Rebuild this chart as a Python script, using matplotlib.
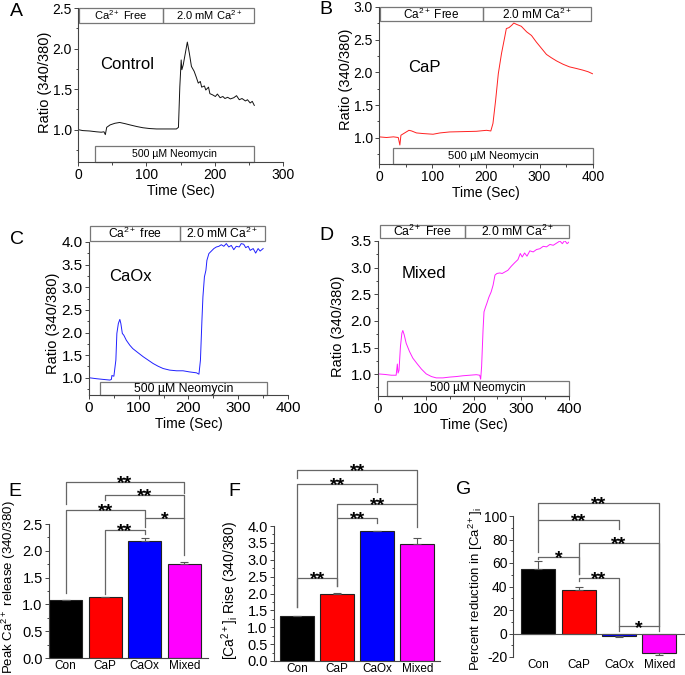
import matplotlib
matplotlib.use("Agg")
from matplotlib import pyplot as plt
from matplotlib.patches import Rectangle
from matplotlib.ticker import MultipleLocator, FormatStrFormatter

# ---- time traces ----
ctrl_t = [1, 7, 17, 27, 34, 38, 40, 42, 47, 54, 61, 69, 76, 86, 95, 105, 115, 125, 135, 144,
          147, 149, 151, 152, 154, 157, 160, 163, 166, 170, 173, 176, 179, 181, 185, 187, 191, 193, 197, 201,
          204, 208, 212, 215, 219, 223, 228, 232, 236, 240, 245, 248, 252, 255, 258]
ctrl_r = [1.00, 0.99, 0.985, 0.975, 0.97, 0.975, 0.94, 1.03, 1.06, 1.08, 1.09, 1.075, 1.06, 1.04, 1.025, 1.015, 1.01, 1.01, 1.01, 1.01,
          1.03, 1.53, 1.86, 1.74, 1.80, 1.94, 2.08, 1.94, 1.78, 1.72, 1.65, 1.575, 1.595, 1.525, 1.54, 1.49, 1.525, 1.445, 1.43, 1.41,
          1.44, 1.395, 1.41, 1.385, 1.40, 1.38, 1.395, 1.42, 1.37, 1.385, 1.355, 1.37, 1.33, 1.35, 1.30]

cap_t = [0, 14, 27, 36, 39, 41, 48, 56, 61, 70, 83, 101, 114, 132, 157, 182, 201, 209, 213, 218,
         223, 229, 235, 238, 243, 248, 252, 257, 266, 276, 285, 294, 304, 313, 322, 332, 344, 356, 369, 381,
         391, 399]
cap_r = [1.015, 1.005, 1.015, 1.005, 0.89, 1.04, 1.075, 1.115, 1.105, 1.075, 1.065, 1.055, 1.075, 1.09, 1.095, 1.10, 1.115, 1.105, 1.22, 1.575,
         1.98, 2.29, 2.54, 2.67, 2.685, 2.72, 2.755, 2.735, 2.705, 2.62, 2.565, 2.465, 2.365, 2.275, 2.225, 2.175, 2.125, 2.085, 2.06, 2.035,
         2.01, 1.98]

caox_t = [1, 15, 28, 42, 45, 46, 50, 54, 56, 59, 62, 64, 67, 70, 75, 82, 88, 99, 109, 119,
          129, 139, 149, 162, 176, 189, 202, 216, 221, 224, 227, 229, 232, 235, 237, 241, 246, 251, 256, 261,
          266, 271, 276, 281, 286, 291, 296, 302, 306, 311, 315, 320, 324, 330, 335, 340, 344, 350]
caox_r = [1.0, 0.98, 0.965, 0.95, 0.965, 1.05, 1.035, 1.39, 1.98, 2.20, 2.29, 2.20, 1.98, 1.94, 1.83, 1.72, 1.645, 1.55, 1.465, 1.39,
          1.315, 1.255, 1.205, 1.17, 1.155, 1.155, 1.13, 1.11, 1.08, 1.39, 2.27, 2.79, 3.23, 3.375, 3.595, 3.745, 3.80, 3.855, 3.89, 3.905,
          3.94, 3.905, 3.965, 3.89, 3.925, 3.83, 3.905, 3.89, 3.965, 3.95, 3.875, 3.905, 3.815, 3.855, 3.755, 3.855, 3.80, 3.855]

mix_t = [0, 14, 28, 38, 40.5, 42, 44, 47, 50, 52, 55, 59, 66, 73, 82, 91, 101, 112, 122, 136,
         150, 164, 178, 192, 206, 213, 215, 217, 220, 222, 225, 228, 232, 237, 241, 245, 249, 255, 260, 266,
         272, 279, 286, 293, 298, 302, 307, 312, 318, 325, 332, 339, 346, 353, 360, 367, 374, 381, 386, 391,
         396, 400]
mix_r = [1.005, 0.995, 0.98, 0.98, 1.19, 1.02, 1.07, 1.52, 1.77, 1.82, 1.735, 1.58, 1.425, 1.30, 1.195, 1.095, 1.005, 0.955, 0.93, 0.93,
         0.945, 0.955, 0.97, 0.98, 0.99, 0.98, 0.905, 1.145, 1.83, 2.17, 2.255, 2.33, 2.44, 2.545, 2.67, 2.86, 2.89, 2.90, 2.89, 2.92,
         2.95, 3.025, 3.09, 3.15, 3.265, 3.20, 3.275, 3.215, 3.315, 3.295, 3.34, 3.355, 3.40, 3.39, 3.435, 3.42, 3.46, 3.50, 3.45, 3.51,
         3.45, 3.48]

# ---- bar summaries ----
groups = ["Con", "CaP", "CaOx", "Mixed"]
bar_colors = ["#000000", "#ff0000", "#0000ff", "#ff00ff"]
peak_mean = [1.08, 1.13, 2.19, 1.76]
peak_err = [0.01, 0.01, 0.05, 0.03]
rise_mean = [1.33, 2.00, 3.84, 3.48]
rise_err = [0.01, 0.01, 0.01, 0.17]
reduc_mean = [55, 37, -2.5, -17]
reduc_err = [7, 2.5, 0.7, 1.2]

plt.rcParams.update({
    "font.family": ["Liberation Sans", "DejaVu Sans"],
    "mathtext.fontset": "custom",
    "mathtext.rm": "Liberation Sans",
    "mathtext.it": "Liberation Sans:italic",
    "mathtext.bf": "Liberation Sans:bold",
})

fig = plt.figure(figsize=(6.85, 6.75), dpi=100)
W, H = 685.0, 675.0


def add_ax(l, r, t, b):
    return fig.add_axes([l / W, 1 - b / H, (r - l) / W, (b - t) / H])


def style(ax, labelsize=10):
    for s in ("top", "right"):
        ax.spines[s].set_visible(False)
    for s in ("left", "bottom"):
        ax.spines[s].set_color("#444444")
        ax.spines[s].set_linewidth(0.8)
    ax.tick_params(which="both", direction="out", color="#444444", width=0.7,
                   labelsize=labelsize, pad=1.5)
    ax.tick_params(which="major", length=3)
    ax.tick_params(which="minor", length=1.8)


def trace(ax, t, r, color, xmax, ylim, name, name_xy, top, neo, free_txt, fs_box, fs_neo, fs_ax, ylab_xy):
    style(ax, fs_ax)
    ax.plot(t, r, color=color, lw=0.7)
    ax.set_xlim(0, xmax)
    ax.set_ylim(*ylim)
    ax.xaxis.set_major_locator(MultipleLocator(100))
    ax.xaxis.set_minor_locator(MultipleLocator(50))
    ax.yaxis.set_major_locator(MultipleLocator(0.5))
    ax.yaxis.set_minor_locator(MultipleLocator(0.25))
    ax.yaxis.set_major_formatter(FormatStrFormatter("%.1f"))
    ax.set_xlabel("Time (Sec)", fontsize=10, labelpad=1)
    ax.set_ylabel("Ratio (340/380)", fontsize=10.5)
    ax.yaxis.set_label_coords(*ylab_xy)
    ax.text(name_xy[0], name_xy[1], name, fontsize=12, ha="left", va="center")
    x0, xm, x1, y0, y1 = top
    for a, b in ((x0, xm), (xm, x1)):
        ax.add_patch(Rectangle((a, y0), b - a, y1 - y0, fill=False, ec="#777777", lw=0.9, clip_on=False))
    ax.text((x0 + xm) / 2, (y0 + y1) / 2, free_txt, ha="center", va="center", fontsize=fs_box, clip_on=False)
    ax.text((xm + x1) / 2, (y0 + y1) / 2, r"2.0 mM Ca$^{2+}$", ha="center", va="center", fontsize=fs_box, clip_on=False)
    n0, n1, ntop = neo
    ax.add_patch(Rectangle((n0, ylim[0]), n1 - n0, ntop - ylim[0], fill=False, ec="#777777", lw=0.9, clip_on=False))
    ax.text((n0 + n1) / 2, (ylim[0] + ntop) / 2, "500 \u00b5M Neomycin", ha="center", va="center", fontsize=fs_neo)


axA = add_ax(78, 283, 8, 162)
trace(axA, ctrl_t, ctrl_r, "#111111", 300, (0.603, 2.5), "Control", (33, 1.81),
      (1, 125, 258, 2.314, 2.5), (25, 258, 0.795), r"Ca$^{2+}$ Free", 8, 7.6, 10, (-0.125, 0.52))

axB = add_ax(379, 593, 7, 164)
trace(axB, cap_t, cap_r, "#ff2020", 400, (0.60, 3.0), "CaP", (55, 2.08),
      (2, 195, 396, 2.78, 3.0), (26, 400, 0.84), r"Ca$^{2+}$ Free", 8.5, 8.1, 10, (-0.122, 0.54))

axC = add_ax(89, 288, 242, 395)
trace(axC, caox_t, caox_r, "#2020ff", 400, (0.62, 4.0), "CaOx", (40, 3.23),
      (3, 182, 353, 4.022, 4.346), (22, 357, 0.897), r"Ca$^{2+}$ free", 8.7, 8.8, 11, (-0.146, 0.47))

axD = add_ax(378, 569, 241, 396)
trace(axD, mix_t, mix_r, "#ff20ff", 400, (0.59, 3.5), "Mixed", (50, 2.89),
      (5, 183, 400, 3.556, 3.80), (19, 400, 0.875), r"Ca$^{2+}$ Free", 8.8, 8.5, 11, (-0.172, 0.447))


def bars(ax, vals, errs, ylim, major, minor, fmt, ylabel, ylab_fs, label_xy, xlim, brackets, tick_fs=10.5):
    style(ax, tick_fs)
    x = range(len(groups))
    lo = [e if v < 0 else 0 for v, e in zip(vals, errs)]
    hi = [0 if v < 0 else e for v, e in zip(vals, errs)]
    ax.bar(x, vals, width=0.84, color=bar_colors, edgecolor="#222222", lw=0.8,
           yerr=[lo, hi], error_kw=dict(ecolor="#555555", elinewidth=0.8, capsize=3, capthick=0.8))
    ax.set_xlim(*xlim)
    ax.set_ylim(*ylim)
    ax.set_xticks(list(x))
    ax.set_xticklabels(groups, fontsize=8.5)
    ax.tick_params(axis="x", length=0, pad=1.5)
    ax.yaxis.set_major_locator(MultipleLocator(major))
    ax.yaxis.set_minor_locator(MultipleLocator(minor))
    ax.yaxis.set_major_formatter(FormatStrFormatter(fmt))
    ax.set_ylabel(ylabel, fontsize=ylab_fs)
    ax.yaxis.set_label_coords(*label_xy)
    for i, j, y, yl, yr, lab in brackets:
        ax.plot([i, i, j, j], [yl, y, y, yr], color="#666666", lw=0.9, clip_on=False)
        ax.annotate(lab, xy=((i + j) / 2, y), xytext=(0, -4.5), textcoords="offset points",
                    ha="center", va="baseline", fontsize=14, fontweight="bold", annotation_clip=False)


axE = add_ax(49, 208, 524, 658)
bars(axE, peak_mean, peak_err, (0, 2.5), 0.5, 0.25, "%.1f",
     r"Peak Ca$^{2+}$ release (340/380)", 9.5, (-0.195, 0.53), (-0.42, 3.6),
     [(0, 3, 3.29, 2.87, 3.08, "**"), (1, 3, 3.04, 2.95, 2.62, "**"),
      (0, 2, 2.76, 1.21, 2.62, "**"), (2, 3, 2.62, 2.45, 1.92, "*"),
      (1, 2, 2.39, 1.19, 2.31, "**")])

axF = add_ax(274, 440, 526, 661)
bars(axF, rise_mean, rise_err, (0, 4.0), 0.5, 0.25, "%.1f",
     r"[Ca$^{2+}$]$_{\mathrm{i}}$ Rise (340/380)", 10, (-0.2, 0.52), (-0.58, 3.57),
     [(0, 3, 5.66, 5.41, 4.68, "**"), (0, 2, 5.24, 1.61, 5.02, "**"),
      (1, 3, 4.65, 4.28, 3.98, "**"), (1, 2, 4.24, 2.22, 4.10, "**"),
      (0, 1, 2.46, 1.61, 2.22, "**")])

axG = add_ax(513, 685, 516, 657)
bars(axG, reduc_mean, reduc_err, (-20, 100), 20, 10, "%d",
     r"Percent reduction in [Ca$^{2+}$]$_{\mathrm{i}}$", 9.5, (-0.165, 0.48), (-0.63, 3.64),
     [(0, 3, 111, 96.6, 6, "**"), (0, 2, 96.6, 69.5, 89, "**"),
      (1, 3, 77, 51, 6, "**"), (0, 1, 65, 63, 51, "*"),
      (1, 2, 47, 45, 6, "**"), (2, 3, 6, 2.5, 2.5, "*")], tick_fs=10)
axG.tick_params(axis="y", pad=1)
axG.spines["bottom"].set_visible(False)
axG.axhline(0, color="#555555", lw=0.8)

for lab, px, py in [("A", 16, 11), ("B", 326, 10), ("C", 17, 239), ("D", 326, 236),
                    ("E", 15, 491), ("F", 234, 491), ("G", 464, 490)]:
    fig.text(px / W, 1 - py / H, lab, fontsize=14, ha="center", va="center")

fig.savefig("out.png", dpi=100)
